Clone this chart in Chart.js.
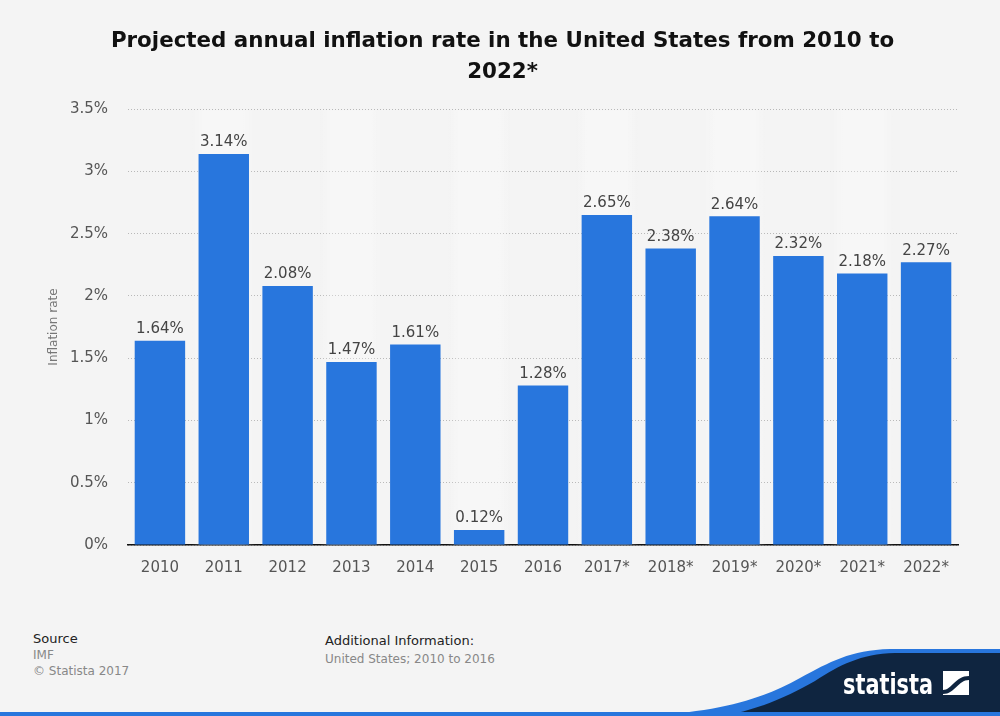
<!DOCTYPE html>
<html>
<head>
<meta charset="utf-8">
<script src="https://cdn.jsdelivr.net/npm/chart.js@4"></script>
<style>
  html, body { margin: 0; padding: 0; background: #f4f4f4; }
  #wrap { position: relative; width: 1000px; height: 716px; overflow: hidden; font-family: "DejaVu Sans", sans-serif; }
  #chartBox { position: absolute; left: 0; top: 0; width: 1000px; height: 600px; }
  .foot { position: absolute; font-size: 12px; color: #888; line-height: 18px; }
  .foot b { font-weight: normal; color: #222; font-size: 13px; }
  #logo { position: absolute; left: 0; top: 0; }
</style>
</head>
<body>
<div id="wrap">
  <div id="chartBox"><canvas id="graph"></canvas></div>
  <div class="foot" style="left:33px; top:631px; line-height:16px;"><b>Source</b><br>IMF<br>© Statista 2017</div>
  <div class="foot" style="left:325px; top:632px;"><b>Additional Information:</b><br>United States; 2010 to 2016</div>
  <svg id="logo" width="1000" height="716">
    <path d="M640 716 C 720 712, 760 700, 800 678 C 830 662, 850 650, 890 649 L 1000 649 L 1000 716 Z" fill="#2876dd"/>
    <path d="M720 716 C 760 710, 790 695, 815 681 C 840 665, 860 654, 895 653 L 1000 653 L 1000 716 Z" fill="#0f2540"/>
    <rect x="0" y="712" width="1000" height="4" fill="#2876dd"/>
    <text x="843" y="694" fill="#ffffff" font-family="DejaVu Sans Condensed, DejaVu Sans" font-weight="bold" font-size="28" textLength="90" lengthAdjust="spacingAndGlyphs">statista</text>
    <rect x="943" y="671" width="26" height="24" fill="#ffffff"/>
    <path d="M943 690 C 952 690, 955 676, 969 676 L 969 680 C 958 680, 955 694, 943 694 Z" fill="#0f2540"/>
  </svg>
</div>
<script>
var years = ['2010', '2011', '2012', '2013', '2014', '2015', '2016', '2017*', '2018*', '2019*', '2020*', '2021*', '2022*'];
var inflation = [1.64, 3.14, 2.08, 1.47, 1.61, 0.12, 1.28, 2.65, 2.38, 2.64, 2.32, 2.18, 2.27];
var yTicks = [0, 0.5, 1, 1.5, 2, 2.5, 3, 3.5];

// light stripes behind every second column
var stripes = {
    id: 'stripes',
    beforeDatasetsDraw: function(chart) {
        var ctx = chart.ctx, x = chart.scales.x, area = chart.chartArea;
        var w = (area.right - area.left) / years.length;
        ctx.save();
        for (var i = 1; i < years.length; i += 2) {
            var cx = x.getPixelForValue(i);
            var g = ctx.createLinearGradient(cx - w / 2, 0, cx + w / 2, 0);
            g.addColorStop(0, 'rgba(255,255,255,0)');
            g.addColorStop(0.2, 'rgba(255,255,255,0.3)');
            g.addColorStop(0.8, 'rgba(255,255,255,0.3)');
            g.addColorStop(1, 'rgba(255,255,255,0)');
            ctx.fillStyle = g;
            ctx.fillRect(cx - w / 2, area.top + 1, w, area.bottom - area.top - 1);
        }
        ctx.restore();
    }
};

var valueLabels = {
    id: 'valueLabels',
    afterDatasetsDraw: function(chart) {
        var ctx = chart.ctx;
        var meta = chart.getDatasetMeta(0);
        ctx.save();
        ctx.font = '15px "DejaVu Sans"';
        ctx.fillStyle = '#444';
        ctx.textAlign = 'center';
        ctx.textBaseline = 'bottom';
        meta.data.forEach(function(bar, i) {
            ctx.fillText(inflation[i].toFixed(2) + '%', bar.x, bar.y - 4);
        });
        ctx.restore();
    }
};

var ctx = document.getElementById('graph');
new Chart(ctx, {
    type: 'bar',
    data: {
        labels: years,
        datasets: [{
            label: 'Inflation rate',
            data: inflation,
            backgroundColor: '#2876dd',
            categoryPercentage: 0.79,
            barPercentage: 1.0
        }]
    },
    plugins: [stripes, valueLabels],
    options: {
        responsive: true,
        maintainAspectRatio: false,
        animation: false,
        layout: { padding: { left: 47, right: 42, top: 26, bottom: 17 } },
        plugins: {
            legend: { display: false },
            tooltip: { enabled: false },
            title: {
                display: true,
                text: ['Projected annual inflation rate in the United States from 2010 to', '2022*'],
                color: '#111',
                font: { family: 'DejaVu Sans', size: 21.4, weight: 'bold', lineHeight: 1.45 },
                padding: { top: 0, bottom: 21 }
            }
        },
        scales: {
            y: {
                min: 0,
                max: 3.5,
                afterBuildTicks: function(scale) {
                    scale.ticks = yTicks.map(function(v) { return { value: v }; });
                },
                afterFit: function(scale) { scale.width = 81; },
                border: { display: false, dash: [1, 2] },
                grid: {
                    color: '#b8b8b8',
                    lineWidth: 1,
                    drawTicks: false
                },
                ticks: {
                    padding: 20,
                    color: '#555',
                    font: { family: 'DejaVu Sans', size: 15 },
                    callback: function(v) { return v + '%'; }
                },
                title: {
                    display: true,
                    text: 'Inflation rate',
                    color: '#777',
                    font: { family: 'DejaVu Sans', size: 12 },
                    padding: 0
                }
            },
            x: {
                border: { display: true, color: '#111', width: 1.5 },
                grid: { display: false },
                ticks: {
                    padding: 6,
                    color: '#555',
                    font: { family: 'DejaVu Sans', size: 15 }
                }
            }
        }
    }
});
</script>
</body>
</html>
